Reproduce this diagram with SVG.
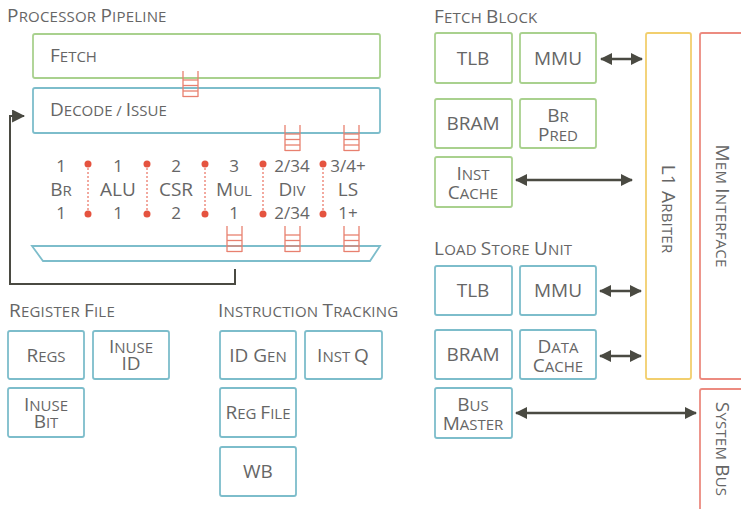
<svg xmlns="http://www.w3.org/2000/svg" xmlns:xlink="http://www.w3.org/1999/xlink" width="741" height="509" viewBox="0 0 741 509">
<style>
  text { font-family: "Open Sans", "Liberation Sans", sans-serif; fill: #666; font-size: 15px; }
  .C { font-size: 19px; }
  .h { letter-spacing: 0.2px; }
  .m { text-anchor: middle; }
  .big { font-size: 19px; text-anchor: middle; }
  .num { font-size: 17px; text-anchor: middle; }
  .g { fill: #fff; stroke: #a9d18e; stroke-width: 1.8; }
  .b { fill: #fff; stroke: #7dbdcb; stroke-width: 1.8; }
  .y { fill: #fff; stroke: #f2cf6e; stroke-width: 1.8; }
  .r { fill: #fff; stroke: #ec8b80; stroke-width: 1.8; }
  .fifo { fill: none; stroke: #e8806f; stroke-width: 1.3; }
  .dot { fill: #e5533f; }
  .dots { stroke: #e5533f; stroke-width: 1; stroke-dasharray: 2 2; }
  .arr { stroke: #4a4a42; stroke-width: 2.5; fill: none; }
  .fb { stroke: #4a4a42; stroke-width: 2; fill: none; }
</style>
<defs>
  <g id="fifoShape" class="fifo">
    <line x1="0" y1="0" x2="0" y2="26"/>
    <line x1="15" y1="0" x2="15" y2="26"/>
    <line x1="0" y1="9" x2="15" y2="9"/>
    <line x1="0" y1="14.5" x2="15" y2="14.5"/>
    <line x1="0" y1="20" x2="15" y2="20"/>
    <line x1="0" y1="25.5" x2="15" y2="25.5"/>
  </g>
  <marker id="ah" viewBox="0 0 12 12" refX="11" refY="6" markerWidth="12" markerHeight="12" orient="auto-start-reverse" markerUnits="userSpaceOnUse">
    <path d="M0,0 L12,6 L0,12 Z" fill="#4a4a42"/>
  </marker>
  <marker id="ah2" viewBox="0 0 12 12" refX="11" refY="6" markerWidth="13" markerHeight="13" orient="auto" markerUnits="userSpaceOnUse">
    <path d="M0,0 L12,6 L0,12 Z" fill="#4a4a42"/>
  </marker>
</defs>

<!-- Section headings -->
<text class="h" x="7" y="22"><tspan class="C">P</tspan>ROCESSOR <tspan class="C">P</tspan>IPELINE</text>
<text class="h" x="9" y="317"><tspan class="C">R</tspan>EGISTER <tspan class="C">F</tspan>ILE</text>
<text class="h" x="218" y="317"><tspan class="C">I</tspan>NSTRUCTION <tspan class="C">T</tspan>RACKING</text>
<text class="h" x="434" y="23"><tspan class="C">F</tspan>ETCH <tspan class="C">B</tspan>LOCK</text>
<text class="h" x="434" y="255"><tspan class="C">L</tspan>OAD <tspan class="C">S</tspan>TORE <tspan class="C">U</tspan>NIT</text>

<!-- Processor pipeline -->
<g id="fetch">
  <rect class="g" x="33" y="34" width="347" height="44" rx="2"/>
  <text x="50" y="62"><tspan class="C">F</tspan>ETCH</text>
</g>
<g id="decode">
  <rect class="b" x="33" y="88" width="347" height="45" rx="2"/>
  <text x="50" y="116"><tspan class="C">D</tspan>ECODE / <tspan class="C">I</tspan>SSUE</text>
</g>
<g id="fifo-fetch-decode"><use xlink:href="#fifoShape" x="183" y="71"/></g>
<g id="fifo-div-in"><use xlink:href="#fifoShape" x="285" y="125"/></g>
<g id="fifo-ls-in"><use xlink:href="#fifoShape" x="344" y="125"/></g>

<g id="exec-units">
  <text class="num" x="61" y="172">1</text>
  <text class="m" x="61" y="196"><tspan class="C">B</tspan>R</text>
  <text class="num" x="61" y="219">1</text>

  <text class="num" x="118" y="172">1</text>
  <text class="big" x="118" y="196">ALU</text>
  <text class="num" x="118" y="219">1</text>

  <text class="num" x="176" y="172">2</text>
  <text class="big" x="176" y="196">CSR</text>
  <text class="num" x="176" y="219">2</text>

  <text class="num" x="234" y="172">3</text>
  <text class="m" x="234" y="196"><tspan class="C">M</tspan>UL</text>
  <text class="num" x="234" y="219">1</text>

  <text class="num" x="292" y="172">2/34</text>
  <text class="m" x="292" y="196"><tspan class="C">D</tspan>IV</text>
  <text class="num" x="292" y="219">2/34</text>

  <text class="num" x="348" y="172">3/4+</text>
  <text class="big" x="348" y="196">LS</text>
  <text class="num" x="348" y="219">1+</text>
</g>
<g id="separators">
  <line class="dots" x1="88" y1="164" x2="88" y2="214"/>
  <line class="dots" x1="147" y1="164" x2="147" y2="214"/>
  <line class="dots" x1="205" y1="164" x2="205" y2="214"/>
  <line class="dots" x1="263" y1="164" x2="263" y2="214"/>
  <line class="dots" x1="323" y1="164" x2="323" y2="214"/>
  <circle class="dot" cx="88" cy="164" r="3.5"/><circle class="dot" cx="88" cy="214" r="3.5"/>
  <circle class="dot" cx="147" cy="164" r="3.5"/><circle class="dot" cx="147" cy="214" r="3.5"/>
  <circle class="dot" cx="205" cy="164" r="3.5"/><circle class="dot" cx="205" cy="214" r="3.5"/>
  <circle class="dot" cx="263" cy="164" r="3.5"/><circle class="dot" cx="263" cy="214" r="3.5"/>
  <circle class="dot" cx="323" cy="164" r="3.5"/><circle class="dot" cx="323" cy="214" r="3.5"/>
</g>
<g id="writeback-mux">
  <polygon class="b" points="32,246 380,246 370,261 43,261"/>
</g>
<g id="fifo-mul-out"><use xlink:href="#fifoShape" x="227" y="226"/></g>
<g id="fifo-div-out"><use xlink:href="#fifoShape" x="285" y="226"/></g>
<g id="fifo-ls-out"><use xlink:href="#fifoShape" x="344" y="226"/></g>

<!-- Register file -->
<g id="regs"><rect class="b" x="8" y="331" width="76" height="48" rx="2"/><text class="m" x="46" y="362"><tspan class="C">R</tspan>EGS</text></g>
<g id="inuse-id"><rect class="b" x="93" y="331" width="76" height="48" rx="2"/><text class="m" x="131" y="353"><tspan class="C">I</tspan>NUSE<tspan x="131" dy="17" class="C">ID</tspan></text></g>
<g id="inuse-bit"><rect class="b" x="8" y="388" width="76" height="49" rx="2"/><text class="m" x="46" y="411"><tspan class="C">I</tspan>NUSE<tspan x="46" dy="17" class="C">B</tspan>IT</text></g>

<!-- Instruction tracking -->
<g id="id-gen"><rect class="b" x="220" y="331" width="76" height="48" rx="2"/><text class="m" x="258" y="362"><tspan class="C">ID G</tspan>EN</text></g>
<g id="inst-q"><rect class="b" x="305" y="331" width="77" height="48" rx="2"/><text class="m" x="343" y="362"><tspan class="C">I</tspan>NST <tspan class="C">Q</tspan></text></g>
<g id="reg-file"><rect class="b" x="220" y="388" width="76" height="49" rx="2"/><text class="m" x="258" y="419"><tspan class="C">R</tspan>EG <tspan class="C">F</tspan>ILE</text></g>
<g id="wb"><rect class="b" x="220" y="447" width="76" height="49" rx="2"/><text class="big" x="258" y="478">WB</text></g>

<!-- Fetch block -->
<g id="fb-tlb"><rect class="g" x="435" y="33" width="77" height="50" rx="2"/><text class="big" x="473" y="65">TLB</text></g>
<g id="fb-mmu"><rect class="g" x="520" y="33" width="76" height="50" rx="2"/><text class="big" x="558" y="65">MMU</text></g>
<g id="fb-bram"><rect class="g" x="435" y="99" width="77" height="49" rx="2"/><text class="big" x="473" y="130">BRAM</text></g>
<g id="fb-brpred"><rect class="g" x="520" y="99" width="76" height="49" rx="2"/><text class="m" x="558" y="122"><tspan class="C">B</tspan>R<tspan x="558" dy="19" class="C">P</tspan>RED</text></g>
<g id="fb-instcache"><rect class="g" x="435" y="157" width="77" height="50" rx="2"/><text class="m" x="473" y="180"><tspan class="C">I</tspan>NST<tspan x="473" dy="19" class="C">C</tspan>ACHE</text></g>

<!-- Load store unit -->
<g id="ls-tlb"><rect class="b" x="435" y="266" width="77" height="49" rx="2"/><text class="big" x="473" y="297">TLB</text></g>
<g id="ls-mmu"><rect class="b" x="520" y="266" width="76" height="49" rx="2"/><text class="big" x="558" y="297">MMU</text></g>
<g id="ls-bram"><rect class="b" x="435" y="330" width="77" height="49" rx="2"/><text class="big" x="473" y="361">BRAM</text></g>
<g id="ls-datacache"><rect class="b" x="520" y="330" width="76" height="49" rx="2"/><text class="m" x="558" y="353"><tspan class="C">D</tspan>ATA<tspan x="558" dy="19" class="C">C</tspan>ACHE</text></g>
<g id="ls-busmaster"><rect class="b" x="435" y="388" width="77" height="50" rx="2"/><text class="m" x="473" y="411"><tspan class="C">B</tspan>US<tspan x="473" dy="19" class="C">M</tspan>ASTER</text></g>

<!-- Right column -->
<g id="l1-arbiter"><rect class="y" x="646" y="33" width="45" height="346" rx="2"/><text class="m h" transform="translate(668,209) rotate(90)" x="0" y="6"><tspan class="C">L1 A</tspan>RBITER</text></g>
<g id="mem-interface"><rect class="r" x="700" y="33" width="50" height="346" rx="2"/><text class="m h" transform="translate(722,206) rotate(90)" x="0" y="6"><tspan class="C">M</tspan>EM <tspan class="C">I</tspan>NTERFACE</text></g>
<g id="system-bus"><rect class="r" x="700" y="389" width="50" height="130" rx="2"/><text class="m h" transform="translate(722,449) rotate(90)" x="0" y="6"><tspan class="C">S</tspan>YSTEM <tspan class="C">B</tspan>US</text></g>

<!-- Connectors -->
<g id="connectors">
  <path class="fb" d="M235,269 V284 H10 V116 H24" marker-end="url(#ah2)"/>
  <line class="arr" x1="601" y1="59" x2="642" y2="59" marker-start="url(#ah)" marker-end="url(#ah)"/>
  <line class="arr" x1="516" y1="180" x2="632" y2="180" marker-start="url(#ah)" marker-end="url(#ah)"/>
  <line class="arr" x1="600" y1="291" x2="641" y2="291" marker-start="url(#ah)" marker-end="url(#ah)"/>
  <line class="arr" x1="600" y1="356" x2="641" y2="356" marker-start="url(#ah)" marker-end="url(#ah)"/>
  <line class="arr" x1="516" y1="413" x2="696" y2="413" marker-start="url(#ah)" marker-end="url(#ah)"/>
</g>
</svg>
